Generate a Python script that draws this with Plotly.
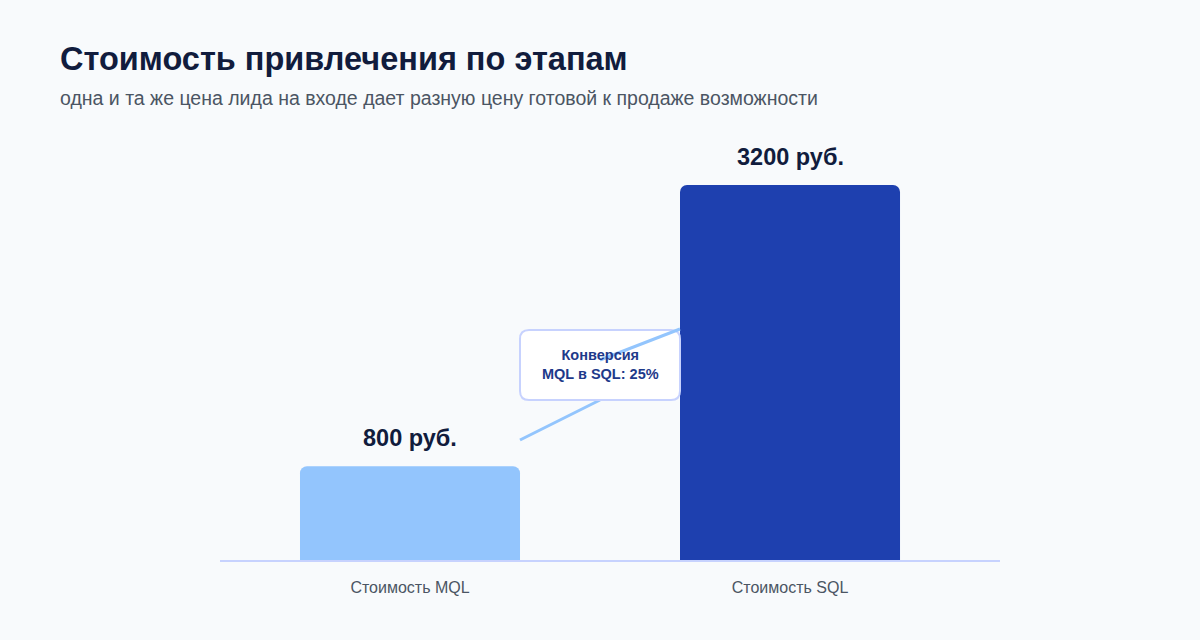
import plotly.graph_objects as go

stages = ["Стоимость MQL", "Стоимость SQL"]
costs = [800, 3200]
value_labels = ["800 руб.", "3200 руб."]
bar_colors = ["#93c5fd", "#1e40af"]
conversion_text = "<b>Конверсия<br>MQL в SQL: 25%</b>"

FONT = "Liberation Sans, Arial, sans-serif"

# plot area in pixels: x 220..1000, y 140..560
L, R, T, B = 220, 200, 140, 80
W, H = 1200, 640
PW, PH = W - L - R, H - T - B


def px(x):
    return (x - L) / PW


def py(y):
    return (H - B - y) / PH


fig = go.Figure()
fig.add_trace(go.Bar(
    x=list(range(len(stages))), y=costs,
    marker=dict(color=bar_colors, line=dict(width=0)),
    width=0.579, hoverinfo="skip",
))

for i, (v, lab) in enumerate(zip(costs, value_labels)):
    fig.add_annotation(x=i, y=v, text=f"<b>{lab}</b>", showarrow=False, yanchor="bottom", yshift=13,
                       font=dict(family=FONT, size=23.5, color="#111c3d"))

# connector line (lower part, behind the box)
fig.add_shape(type="line", xref="paper", yref="paper",
              x0=px(520), y0=py(440), x1=px(600), y1=py(400),
              line=dict(color="#93c5fd", width=3))

# rounded box
x0, x1, y0, y1, r = 520, 680, 330, 400, 9
rx, ry = r / PW, r / PH
bx0, bx1, by0, by1 = px(x0), px(x1), py(y1), py(y0)
path = (f"M {bx0+rx},{by0} L {bx1-rx},{by0} Q {bx1},{by0} {bx1},{by0+ry} "
        f"L {bx1},{by1-ry} Q {bx1},{by1} {bx1-rx},{by1} "
        f"L {bx0+rx},{by1} Q {bx0},{by1} {bx0},{by1-ry} "
        f"L {bx0},{by0+ry} Q {bx0},{by0} {bx0+rx},{by0} Z")
fig.add_shape(type="path", xref="paper", yref="paper", path=path,
              fillcolor="white", line=dict(color="#c7d2fe", width=2))

# connector line (upper part, over the box)
fig.add_shape(type="line", xref="paper", yref="paper",
              x0=px(600), y0=py(360), x1=px(680), y1=py(329),
              line=dict(color="#93c5fd", width=3))

fig.add_annotation(xref="paper", yref="paper", x=px(600), y=py(364), text=conversion_text,
                   showarrow=False, align="center",
                   font=dict(family=FONT, size=14.5, color="#1e3a8a"))

fig.add_annotation(xref="paper", yref="paper", x=px(58), y=py(59), xanchor="left", yanchor="middle",
                   text="<b>Стоимость привлечения по этапам</b>", showarrow=False,
                   font=dict(family=FONT, size=32.5, color="#111c3d"))
fig.add_annotation(xref="paper", yref="paper", x=px(58), y=py(98), xanchor="left", yanchor="middle",
                   text="одна и та же цена лида на входе дает разную цену готовой к продаже возможности",
                   showarrow=False, font=dict(family=FONT, size=19.5, color="#4b5563"))

fig.update_layout(
    width=W, height=H,
    margin=dict(l=L, r=R, t=T, b=B),
    paper_bgcolor="#f8fafc", plot_bgcolor="#f8fafc",
    showlegend=False, barcornerradius=7,
    font=dict(family=FONT),
)
fig.update_xaxes(range=[-0.5, 1.5526], tickvals=[0, 1], ticktext=stages,
                 showline=True, linecolor="#c7d2fe", linewidth=2, showgrid=False, zeroline=False,
                 ticks="", ticklabelstandoff=12,
                 tickfont=dict(family=FONT, size=16, color="#4b5563"))
fig.update_yaxes(range=[0, 3584], visible=False, showgrid=False, zeroline=False)

fig.write_html("out.html", config={"displayModeBar": False},
               post_script="document.body.style.margin='0';")
